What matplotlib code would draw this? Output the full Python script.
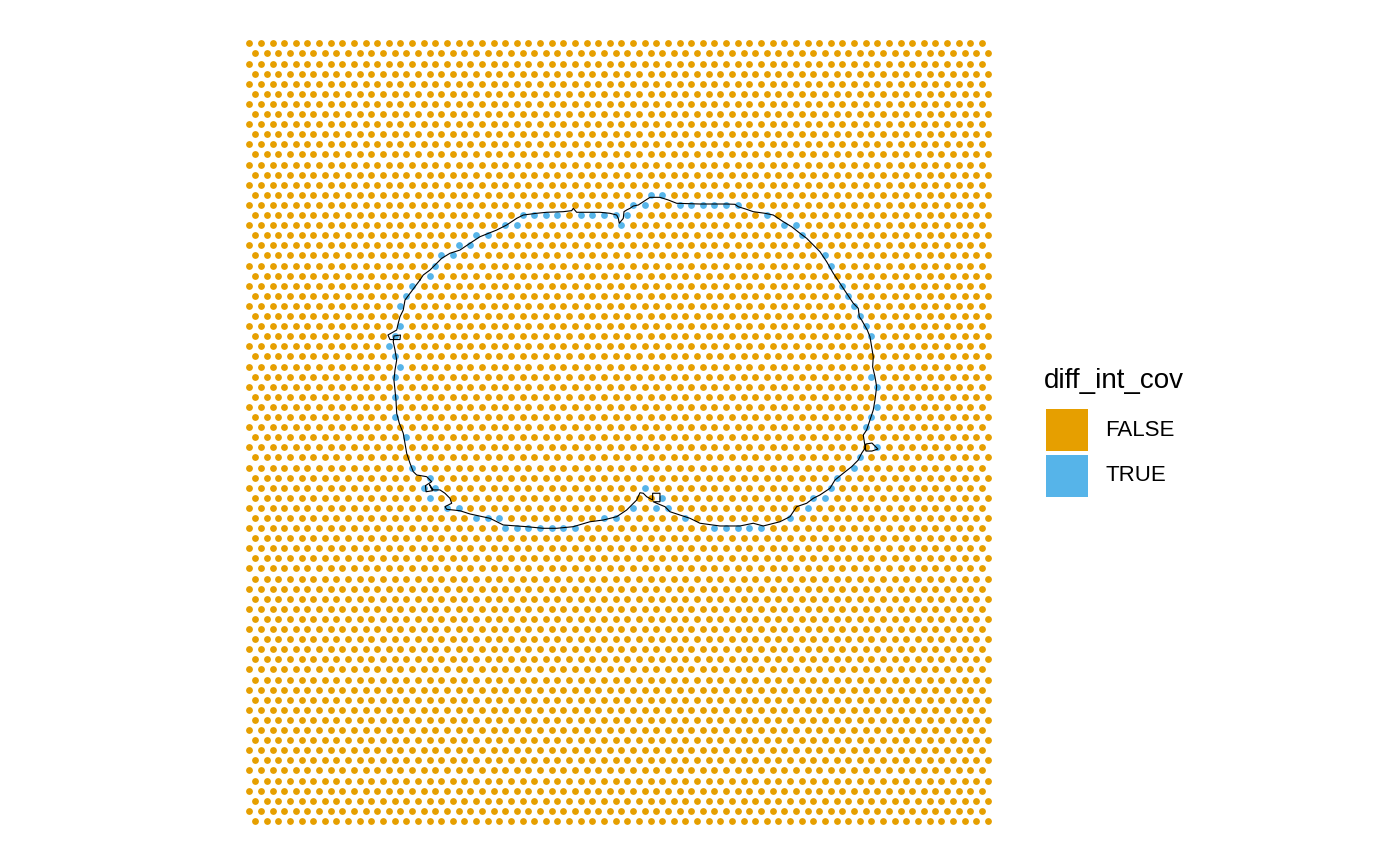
import numpy as np
import matplotlib
matplotlib.use("Agg")
import matplotlib.pyplot as plt
from matplotlib.patches import Rectangle

plt.rcParams['font.family'] = ['Liberation Sans', 'DejaVu Sans']

# spot array (visium style hex layout)
n_rows = 78
n_cols = 128

# spots flagged TRUE, as array_row -> array_col list
true_spots = {
    15: [69, 71],
    16: [66, 68, 74, 76, 78, 80, 82, 84],
    17: [47, 49, 51, 53, 57, 59, 61, 63, 65, 89],
    18: [44, 46, 64, 92, 94],
    19: [39, 41, 95],
    20: [36, 38],
    21: [33, 35, 99],
    22: [32, 100],
    23: [31],
    24: [28, 102],
    25: [27, 103],
    26: [26, 104],
    27: [105],
    28: [26, 106],
    29: [25, 107],
    30: [24],
    31: [25],
    32: [26],
    33: [25, 107],
    34: [108],
    35: [25],
    36: [108],
    37: [25, 107],
    38: [106],
    39: [27],
    40: [108],
    41: [105],
    42: [28, 104],
    43: [31, 101],
    44: [30, 32, 68, 100],
    45: [31, 71, 97, 99],
    46: [34, 36, 66, 70, 72, 96],
    47: [39, 41, 43, 61, 63, 75, 93],
    48: [44, 46, 48, 50, 52, 54, 56, 80, 82, 84, 86, 88],
}

# tissue outline, in array_col / array_row units
outline_col = [29.35, 28.50, 27.64, 26.78, 26.48, 25.92, 25.62, 25.35, 23.85, 24.20,
               25.92, 26.00, 24.88, 24.76, 25.06, 25.35, 25.06, 24.88, 25.06, 25.23,
               25.35, 25.80, 26.48, 26.78, 27.07, 27.64, 28.20, 28.79, 30.51, 31.37,
               30.30, 30.40, 31.50, 31.00, 31.64, 32.79, 33.65, 34.51, 34.81, 33.65,
               33.95, 36.23, 37.95, 41.39, 43.68, 47.70, 50.56, 52.86, 55.72, 58.59,
               60.88, 63.18, 64.90, 65.47, 66.62, 67.19, 67.76, 68.34, 69.37, 69.37,
               70.63, 70.63, 69.47, 70.06, 71.49, 72.35, 74.07, 75.79, 77.51, 80.95,
               84.38, 86.67, 88.39, 91.26, 92.98, 94.14, 95.86, 96.99, 98.14, 99.86,
               100.72, 102.15, 103.59, 104.73, 105.31, 105.88, 106.05, 107.08, 108.11, 107.08,
               106.05, 105.88, 105.59, 106.17, 106.74, 107.31, 107.60, 107.89, 107.60, 107.20,
               107.31, 107.03, 106.74, 106.28, 105.31, 104.90, 104.73, 103.87, 102.73, 101.58,
               100.43, 99.29, 98.14, 96.99, 95.86, 94.70, 93.27, 91.83, 90.11, 88.68,
               86.67, 85.54, 84.09, 83.52, 82.10, 77.51, 73.50, 72.05, 70.63, 68.91,
               67.76, 66.90, 66.04, 65.47, 64.90, 64.44, 64.32, 63.63, 63.46, 63.18,
               62.03, 60.31, 56.30, 55.72, 55.44, 54.00, 51.14, 49.42, 47.12, 45.98,
               44.26, 42.54, 39.67, 37.95, 36.23, 34.51, 33.09, 31.93, 31.07, 29.92,
               29.35]
outline_row = [23.44, 24.10, 24.75, 25.42, 26.41, 27.07, 27.72, 28.39, 28.88, 29.33,
               29.33, 28.88, 28.98, 29.55, 30.37, 31.36, 32.35, 33.34, 34.33, 35.32,
               36.63, 37.62, 38.61, 39.60, 40.59, 41.58, 42.41, 42.74, 42.91, 43.40,
               43.80, 44.40, 44.30, 43.70, 44.22, 44.22, 44.55, 45.05, 45.54, 45.88,
               46.14, 46.28, 46.60, 47.03, 47.69, 47.86, 48.02, 48.02, 47.86, 47.37,
               47.20, 46.87, 46.21, 45.88, 45.22, 44.50, 44.55, 44.89, 45.22, 44.55,
               44.55, 45.39, 45.39, 45.54, 45.88, 46.38, 46.71, 47.03, 47.52, 47.79,
               47.79, 47.52, 47.79, 47.37, 46.87, 45.88, 45.54, 45.05, 44.72, 44.06,
               43.24, 42.57, 41.92, 41.26, 40.59, 40.10, 39.67, 39.58, 40.17, 40.37,
               40.37, 39.87, 38.78, 38.29, 37.30, 36.31, 35.32, 34.00, 33.01, 32.02,
               31.03, 30.04, 29.05, 28.39, 27.40, 27.07, 26.24, 25.74, 24.75, 23.76,
               22.77, 21.62, 20.63, 19.97, 19.31, 18.81, 18.16, 17.66, 17.00, 16.83,
               16.67, 16.44, 16.18, 15.94, 15.91, 15.91, 15.84, 15.51, 15.25, 15.25,
               15.68, 16.01, 16.11, 16.34, 16.50, 16.67, 17.33, 17.82, 17.33, 17.00,
               16.83, 16.73, 16.73, 16.34, 16.57, 16.67, 16.73, 16.83, 17.00, 17.33,
               17.99, 18.49, 19.15, 19.80, 20.47, 20.79, 21.29, 21.95, 22.45, 22.94,
               23.44]

legend_title = "diff_int_cov"
levels = ["FALSE", "TRUE"]
colors = {"FALSE": "#E69F00", "TRUE": "#56B4E9"}

# build spot table
rows, cols, flag = [], [], []
for r in range(n_rows):
    for c in range(r % 2, n_cols, 2):
        rows.append(r)
        cols.append(c)
        flag.append(c in true_spots.get(r, []))
rows = np.array(rows)
cols = np.array(cols)
flag = np.array(flag)

W, H = 1400, 865
fig = plt.figure(figsize=(W / 100, H / 100), dpi=100)
ax = fig.add_axes([0.1739, 0.0392, 0.5358, 0.9224])

for lev, mask in [("FALSE", ~flag), ("TRUE", flag)]:
    ax.scatter(cols[mask], rows[mask], s=24, c=colors[lev], linewidths=0)

ax.plot(outline_col, outline_row, color="black", lw=0.8)

ax.set_xlim(-1, 128)
ax.set_ylim(78, -1)
ax.axis("off")

# legend, drawn by hand like ggplot's guide
fig.text(1044 / W, 1 - 381 / H, legend_title, fontsize=20, va="center", ha="left")
key = 42
for i, lev in enumerate(levels):
    top = 409 + i * 46
    fig.add_artist(Rectangle((1046 / W, 1 - (top + key) / H), key / W, key / H,
                             transform=fig.transFigure, facecolor=colors[lev],
                             edgecolor="none"))
    fig.text(1105 / W, 1 - (top + key / 2) / H, lev, fontsize=16,
             va="center", ha="left")

fig.savefig("out.png", dpi=100)
